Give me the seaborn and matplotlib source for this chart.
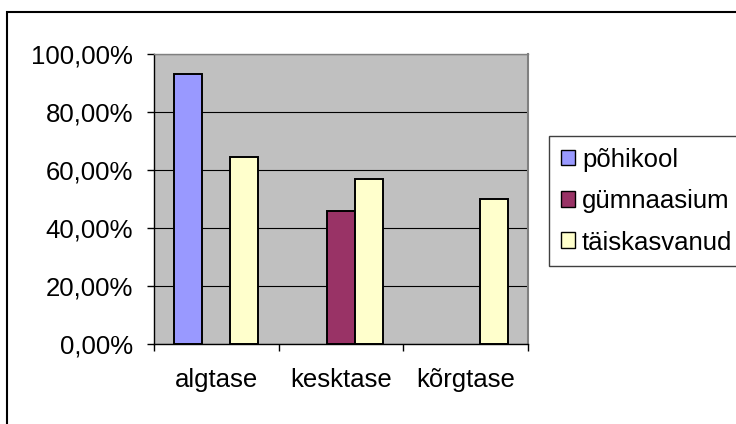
import matplotlib
import matplotlib.pyplot as plt
import matplotlib.patches as patches
import numpy as np
import pandas as pd
import seaborn as sns
from matplotlib.ticker import FixedLocator, FuncFormatter

matplotlib.use("Agg")

LEVELS = ["algtase", "kesktase", "kõrgtase"]
GROUPS = ["põhikool", "gümnaasium", "täiskasvanud"]
POHIKOOL = [0.93, np.nan, np.nan]
GYMNAASIUM = [np.nan, 0.46, np.nan]
TAISKASVANUD = [0.645, 0.57, 0.50]
Y_TICKS = [0.0, 0.2, 0.4, 0.6, 0.8, 1.0]

COLORS = {"põhikool": "#9999FF", "gümnaasium": "#993366", "täiskasvanud": "#FFFFCC"}

W, H = 736, 424


def pct(v, _pos=None):
    return f"{v * 100:.2f}%".replace(".", ",")


def main() -> None:
    df = pd.DataFrame(
        {
            "tase": LEVELS * 3,
            "grupp": [g for g in GROUPS for _ in LEVELS],
            "osa": POHIKOOL + GYMNAASIUM + TAISKASVANUD,
        }
    )

    sns.set_style("white")
    plt.rcParams["font.family"] = ["Liberation Sans", "DejaVu Sans"]
    plt.rcParams["text.color"] = "black"
    plt.rcParams["xtick.color"] = "black"
    plt.rcParams["ytick.color"] = "black"
    fs = 18.5

    fig = plt.figure(figsize=(W / 100, H / 100), dpi=100)
    fig.patch.set_facecolor("white")
    ax = fig.add_axes([154 / W, 1 - 344 / H, 374 / W, 290 / H])

    sns.barplot(
        data=df,
        x="tase",
        y="osa",
        hue="grupp",
        order=LEVELS,
        hue_order=GROUPS,
        palette=COLORS,
        width=0.674,
        edgecolor="black",
        linewidth=1.4,
        errorbar=None,
        saturation=1,
        legend=True,
        ax=ax,
    )

    ax.set_facecolor("#C0C0C0")
    ax.set_xlim(-0.5, 2.5)
    ax.set_ylim(0, 1)
    ax.set_xlabel("")
    ax.set_ylabel("")

    ax.yaxis.set_major_locator(FixedLocator(Y_TICKS))
    ax.yaxis.set_major_formatter(FuncFormatter(pct))
    ax.set_axisbelow(True)
    ax.yaxis.grid(True, color="black", linewidth=0.8)
    ax.xaxis.grid(False)

    ax.xaxis.set_minor_locator(FixedLocator([-0.5, 0.5, 1.5, 2.5]))
    ax.tick_params(axis="x", which="major", length=0, pad=17, labelsize=fs, labelcolor="black")
    ax.tick_params(axis="x", which="minor", length=5, width=1, direction="out", color="black", bottom=True)
    ax.tick_params(axis="y", which="major", length=5, width=1, direction="out", color="black", pad=10,
                   labelsize=fs, labelcolor="black", left=True)

    ax.spines["left"].set_color("black")
    ax.spines["left"].set_linewidth(1)
    ax.spines["bottom"].set_color("black")
    ax.spines["bottom"].set_linewidth(1)
    ax.spines["top"].set_color("#808080")
    ax.spines["top"].set_linewidth(1)
    ax.spines["right"].set_color("#808080")
    ax.spines["right"].set_linewidth(1.5)
    for s in ax.spines.values():
        s.set_visible(True)

    handles, labels = ax.get_legend_handles_labels()
    ax.get_legend().remove()
    for h in handles:
        h.set_edgecolor("black")
        h.set_linewidth(1)
    leg = fig.legend(
        handles,
        labels,
        loc="upper left",
        bbox_to_anchor=(549 / W, 1 - 136 / H),
        borderaxespad=0,
        frameon=True,
        fancybox=False,
        shadow=False,
        fontsize=fs,
        handlelength=0.58,
        handleheight=0.58,
        handletextpad=0.25,
        borderpad=0.45,
        labelspacing=0.68,
    )
    for t in leg.get_texts():
        t.set_color("black")
    leg.get_frame().set_edgecolor("#404040")
    leg.get_frame().set_linewidth(1)
    leg.get_frame().set_facecolor("white")
    leg.get_frame().set_alpha(1)

    frame = patches.Rectangle(
        (7 / W, -0.1),
        1.2,
        1 - 12 / H + 0.1,
        transform=fig.transFigure,
        fill=False,
        edgecolor="black",
        linewidth=1.5,
        clip_on=False,
    )
    fig.add_artist(frame)

    fig.savefig("out.png", dpi=100)
    plt.close(fig)


if __name__ == "__main__":
    main()
